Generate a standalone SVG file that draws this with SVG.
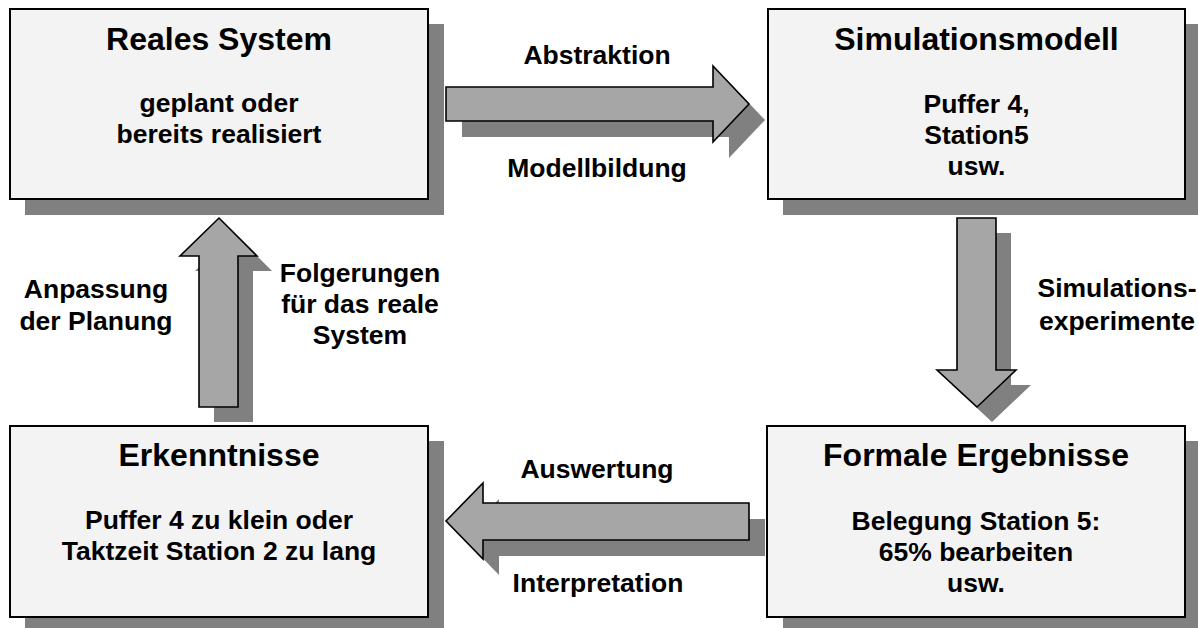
<svg xmlns="http://www.w3.org/2000/svg" width="1198" height="628" viewBox="0 0 1198 628">
  <style>
    .shadow { fill: #808080; }
    .box { fill: #f3f3f3; stroke: #000; stroke-width: 2; }
    .arrow { fill: #a6a6a6; stroke: #000; stroke-width: 1.6; stroke-linejoin: miter; }
    text { font-family: "Liberation Sans", Arial, sans-serif; font-weight: bold; fill: #000; text-anchor: middle; }
    .title { font-size: 32px; }
    .body { font-size: 26.5px; }
  </style>
  <rect width="1198" height="628" fill="#fff"/>

  <!-- connectors: block arrows with drop shadows -->
  <g id="connectors">
    <g id="abstraktion">
      <polygon class="shadow" transform="translate(16,16)" points="446,87 713,87 713,66 749,104 713,142 713,121 446,121"/>
      <polygon class="arrow" points="446,87 713,87 713,66 749,104 713,142 713,121 446,121"/>
      <text class="body" x="597" y="64">Abstraktion</text>
      <text class="body" x="597" y="177">Modellbildung</text>
    </g>
    <g id="simulationsexperimente">
      <polygon class="shadow" transform="translate(15,15)" points="957,218 996,218 996,370 1016,370 977,407 937,370 957,370"/>
      <polygon class="arrow" points="957,218 996,218 996,370 1016,370 977,407 937,370 957,370"/>
      <text class="body" x="1117" y="297">Simulations-</text>
      <text class="body" x="1117" y="330">experimente</text>
    </g>
    <g id="auswertung">
      <polygon class="shadow" transform="translate(16,16)" points="749,503 483,503 483,483 446,521 483,559 483,540 749,540"/>
      <polygon class="arrow" points="749,503 483,503 483,483 446,521 483,559 483,540 749,540"/>
      <text class="body" x="597" y="478">Auswertung</text>
      <text class="body" x="598" y="592">Interpretation</text>
    </g>
    <g id="folgerungen">
      <polygon class="shadow" transform="translate(15,15)" points="199,407 199,256 180,256 219,218 257,256 238,256 238,407"/>
      <polygon class="arrow" points="199,407 199,256 180,256 219,218 257,256 238,256 238,407"/>
      <text class="body" x="96" y="298">Anpassung</text>
      <text class="body" x="96" y="330">der Planung</text>
      <text class="body" x="360" y="282">Folgerungen</text>
      <text class="body" x="360" y="313">für das reale</text>
      <text class="body" x="360" y="344">System</text>
    </g>
  </g>

  <g id="reales-system">
    <rect class="shadow" x="25" y="24" width="419" height="191"/>
    <rect class="box" x="10" y="9" width="418" height="190"/>
    <text class="title" x="219" y="50">Reales System</text>
    <text class="body" x="219" y="112">geplant oder</text>
    <text class="body" x="219" y="143">bereits realisiert</text>
  </g>

  <g id="simulationsmodell">
    <rect class="shadow" x="783" y="24" width="415" height="191"/>
    <rect class="box" x="768" y="9" width="417" height="190"/>
    <text class="title" x="976.5" y="50">Simulationsmodell</text>
    <text class="body" x="976.5" y="113">Puffer 4,</text>
    <text class="body" x="976.5" y="144">Station5</text>
    <text class="body" x="976.5" y="175">usw.</text>
  </g>

  <g id="erkenntnisse">
    <rect class="shadow" x="25" y="441" width="419" height="191"/>
    <rect class="box" x="10" y="426" width="418" height="191"/>
    <text class="title" x="219" y="466">Erkenntnisse</text>
    <text class="body" x="219" y="529">Puffer 4 zu klein oder</text>
    <text class="body" x="219" y="560">Taktzeit Station 2 zu lang</text>
  </g>

  <g id="formale-ergebnisse">
    <rect class="shadow" x="783" y="441" width="415" height="191"/>
    <rect class="box" x="767" y="426" width="418" height="191"/>
    <text class="title" x="976" y="466">Formale Ergebnisse</text>
    <text class="body" x="976" y="530">Belegung Station 5:</text>
    <text class="body" x="976" y="561">65% bearbeiten</text>
    <text class="body" x="976" y="592">usw.</text>
  </g>
</svg>
